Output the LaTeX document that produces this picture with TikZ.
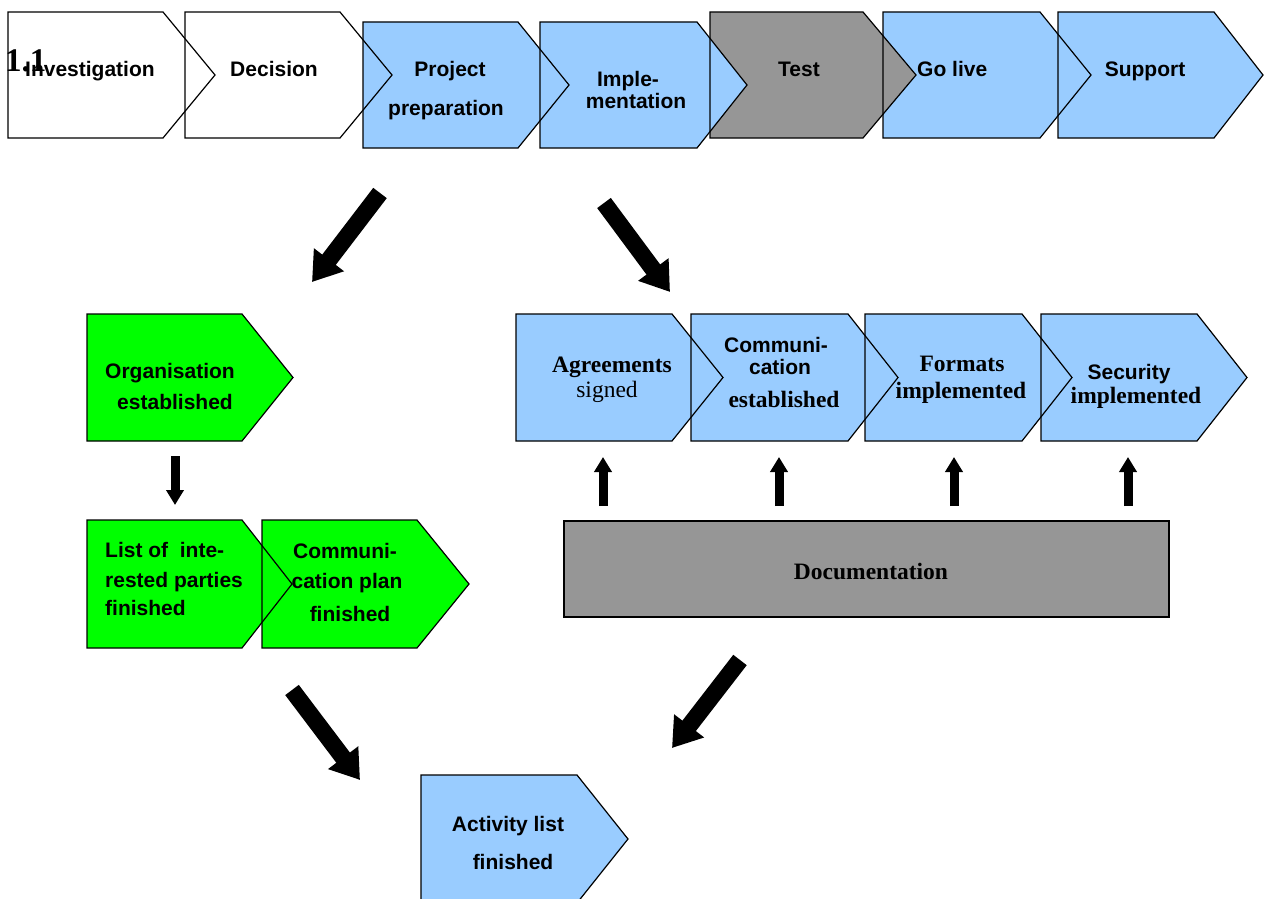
\documentclass[tikz,border=0pt]{standalone}
\usepackage{fontspec}
\setmainfont{Liberation Serif}
\setsansfont{Liberation Sans}
\usetikzlibrary{arrows.meta}
\definecolor{lblue}{HTML}{99CCFF}
\definecolor{dgray}{HTML}{969696}
\definecolor{lgreen}{HTML}{00FF00}
\newcommand\chev[6][]{\path[#1] (#2,#5) -- (#3,#5) -- (#4,{(#5+#6)/2}) -- (#3,#6) -- (#2,#6) -- cycle;}
\begin{document}
\begin{tikzpicture}[x=1pt,y=-1pt,
  sans/.style={font=\fontsize{21}{21}\selectfont\sffamily\bfseries, inner sep=0pt, anchor=base},
  serb/.style={font=\fontsize{23.5}{23.5}\selectfont\rmfamily\bfseries, inner sep=0pt, anchor=base},
  serr/.style={font=\fontsize{23.5}{23.5}\selectfont\rmfamily, inner sep=0pt, anchor=base},
  outl/.style={draw=black, line width=1.2pt, line join=miter},
  bigarrow/.style={line width=17pt, -{Triangle[length=28pt,width=36pt]}},
  smallarrow/.style={line width=9pt, -{Triangle[length=15pt,width=17pt]}}]
\useasboundingbox (0,0) rectangle (1264,899);
\clip (0,0) rectangle (1264,899);
% ---- top row fills
\chev[fill=lblue]{363}{518}{569}{22}{148}
\chev[fill=lblue]{883}{1040}{1091}{12}{138}
\chev[fill=lblue]{1058}{1214}{1263}{12}{138}
\chev[fill=dgray]{710}{863}{916}{12}{138}
\chev[fill=lblue]{540}{697}{747}{22}{148}
% ---- top row outlines
\chev[outl]{8}{163}{215}{12}{138}
\chev[outl]{185}{340}{392}{12}{138}
\chev[outl]{363}{518}{569}{22}{148}
\chev[outl]{540}{697}{747}{22}{148}
\chev[outl]{710}{863}{916}{12}{138}
\chev[outl]{883}{1040}{1091}{12}{138}
\chev[outl]{1058}{1214}{1263}{12}{138}
% ---- middle right
\chev[fill=lblue]{516}{672}{723}{314}{441}
\chev[fill=lblue]{691}{848}{898}{314}{441}
\chev[fill=lblue]{865}{1022}{1072}{314}{441}
\chev[fill=lblue]{1041}{1197}{1247}{314}{441}
\chev[outl]{516}{672}{723}{314}{441}
\chev[outl]{691}{848}{898}{314}{441}
\chev[outl]{865}{1022}{1072}{314}{441}
\chev[outl]{1041}{1197}{1247}{314}{441}
% ---- left green
\chev[fill=lgreen]{87}{242}{293}{314}{441}
\chev[outl]{87}{242}{293}{314}{441}
\chev[fill=lgreen]{87}{242}{292}{520}{648}
\chev[fill=lgreen]{262}{417}{469}{520}{648}
\chev[outl]{87}{242}{292}{520}{648}
\chev[outl]{262}{417}{469}{520}{648}
% ---- activity list
\chev[fill=lblue,outl]{421}{577}{628}{775}{903}
% ---- documentation
\draw[outl, fill=dgray] (564,521) rectangle (1169,617);
\node[serb] (doc) at (871,579) {Documentation};

% ---- top texts
\node[sans, anchor=base west] (inv) at (25,77) {Investigation};
\node[font=\fontsize{33}{33}\selectfont\rmfamily\bfseries, inner sep=0pt, anchor=base west] (num) at (5,72) {1.1};
\node[sans] (dec) at (274,77) {Decision};
\node[sans] (pp1) at (450,77) {Project};
\node[sans] (pp2) at (446,115) {preparation};
\node[sans] (im1) at (628,87) {Imple-};
\node[sans] (im2) at (636,108) {mentation};
\node[sans] (tst) at (799,77) {Test};
\node[sans, anchor=base west] (gol) at (917,77) {Go live};
\node[sans] (sup) at (1145,77) {Support};

% ---- middle right texts
\node[serb] (ag1) at (612,372) {Agreements};
\node[serr] (ag2) at (607,397) {signed};
\node[sans] (ce1) at (776,352) {Communi-};
\node[sans] (ce2) at (780,374) {cation};
\node[serb] (ce3) at (784,407) {established};
\node[serb] (fo1) at (962,371) {Formats};
\node[serb] (fo2) at (961,398) {implemented};
\node[sans] (se1) at (1129,379) {Security};
\node[serb] (se2) at (1136,403) {implemented};

% ---- green texts
\node[sans] (or1) at (170,378) {Organisation};
\node[sans] (or2) at (175,409) {established};
\node[sans, anchor=base west] (li1) at (105,557) {List of\ \ inte-};
\node[sans, anchor=base west] (li2) at (105,587) {rested parties};
\node[sans, anchor=base west] (li3) at (105,615) {finished};
\node[sans] (cp1) at (345,558) {Communi-};
\node[sans] (cp2) at (347,588) {cation plan};
\node[sans] (cp3) at (350,621) {finished};

% ---- activity texts
\node[sans] (ac1) at (508,831) {Activity list};
\node[sans] (ac2) at (513,869) {finished};

% ---- arrows
\coordinate (aAs) at (380,193); \coordinate (aAe) at (312,282);
\coordinate (aBs) at (604,203); \coordinate (aBe) at (670,292);
\coordinate (aCs) at (292,690); \coordinate (aCe) at (360,780);
\coordinate (aDs) at (740,660); \coordinate (aDe) at (672,748);
\draw[bigarrow] (aAs) -- (aAe);
\draw[bigarrow] (aBs) -- (aBe);
\draw[bigarrow] (aCs) -- (aCe);
\draw[bigarrow] (aDs) -- (aDe);

\coordinate (dn1) at (175,456); \coordinate (dn2) at (175,505);
\draw[smallarrow] (dn1) -- (dn2);
\foreach \xx/\nm in {603/u1,779/u2,954/u3,1128/u4}{
  \coordinate (\nm s) at (\xx,506);
  \coordinate (\nm e) at (\xx,457);
  \draw[smallarrow] (\nm s) -- (\nm e);
}
\end{tikzpicture}
\end{document}
